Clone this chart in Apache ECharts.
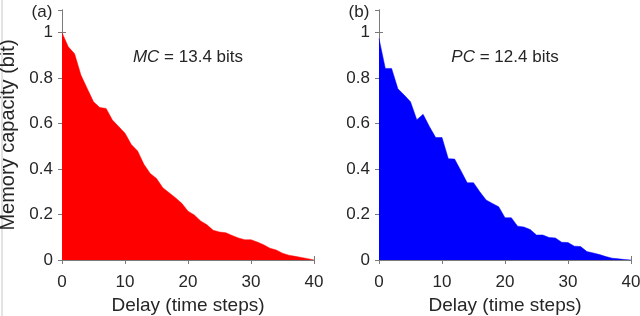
<!DOCTYPE html>
<html>
<head>
<meta charset="utf-8">
<script src="https://cdn.jsdelivr.net/npm/echarts@6/dist/echarts.min.js"></script>
<style>
html,body{margin:0;padding:0;background:#fff;}
#chart{width:640px;height:316px;}
</style>
</head>
<body>
<div id="chart"></div>
<script>
// Data
const delays = [0,1,2,3,4,5,6,7,8,9,10,11,12,13,14,15,16,17,18,19,20,21,22,23,24,25,26,27,28,29,30,31,32,33,34,35,36,37,38,39,40];
const memoryCapacity = [1.0,0.938,0.907,0.814,0.755,0.696,0.671,0.667,0.616,0.587,0.558,0.508,0.480,0.421,0.381,0.359,0.318,0.296,0.274,0.250,0.215,0.198,0.172,0.155,0.131,0.123,0.120,0.108,0.097,0.089,0.089,0.079,0.067,0.052,0.044,0.030,0.021,0.016,0.011,0.006,0.0];
const processingCapacity = [0.975,0.843,0.843,0.753,0.726,0.696,0.617,0.641,0.587,0.539,0.539,0.446,0.444,0.393,0.340,0.340,0.300,0.264,0.249,0.234,0.186,0.186,0.149,0.145,0.134,0.110,0.110,0.099,0.097,0.078,0.077,0.061,0.059,0.037,0.031,0.024,0.015,0.008,0.005,0.002,0.0];
const xTicks = [0,10,20,30,40];
const yTicks = [0,0.2,0.4,0.6,0.8,1];
const panelLabels = ['(a)','(b)'];
const annotations = [{name:'MC', value:'13.4 bits'},{name:'PC', value:'12.4 bits'}];
const xAxisTitle = 'Delay (time steps)';
const yAxisTitle = 'Memory capacity (bit)';

const FONT = 'Liberation Sans, Arial, Helvetica, sans-serif';
const TEXT = '#262626';
const AXIS = '#7a7a7a';

const chart = echarts.init(document.getElementById('chart'), null, {renderer:'canvas'});

const grids = [
  {left:62, top:10, width:252, height:250, outerBoundsMode:'none', containLabel:false},
  {left:379, top:10, width:252, height:250, outerBoundsMode:'none', containLabel:false}
];

const xAxes = [], yAxes = [];
grids.forEach((g, i) => {
  xAxes.push({
    gridIndex:i, type:'value', min:0, max:40, interval:10, position:'bottom',
    axisLine:{show:true, lineStyle:{color:AXIS, width:1}},
    axisTick:{show:true, inside:true, length:4, lineStyle:{color:AXIS}},
    axisLabel:{show:true, margin:14, fontSize:17, color:TEXT, fontFamily:FONT,
      formatter: v => xTicks.indexOf(v) >= 0 ? String(v) : ''},
    splitLine:{show:false},
    name:xAxisTitle, nameLocation:'middle', nameGap:35,
    nameTextStyle:{fontSize:19, color:TEXT, fontFamily:FONT}
  });
  xAxes.push({
    gridIndex:i, type:'value', min:0, max:40, interval:10, position:'top',
    axisLine:{show:true, lineStyle:{color:AXIS, width:1}},
    axisTick:{show:true, inside:true, length:4, lineStyle:{color:AXIS}},
    axisLabel:{show:false}, splitLine:{show:false}
  });
  yAxes.push({
    gridIndex:i, type:'value', min:0, max:1.1, interval:0.2, position:'left',
    axisLine:{show:true, lineStyle:{color:AXIS, width:1}},
    axisTick:{show:true, inside:true, length:4, lineStyle:{color:AXIS}},
    axisLabel:{show:true, margin:9, fontSize:17, color:TEXT, fontFamily:FONT, showMaxLabel:false,
      formatter: v => {
        const t = yTicks.find(y => Math.abs(y - v) < 1e-6);
        return t === undefined ? '' : String(t);
      }},
    splitLine:{show:false},
    name: i === 0 ? yAxisTitle : '', nameLocation:'middle', nameGap:44,
    nameTextStyle:{fontSize:20, color:TEXT, fontFamily:FONT}
  });
  yAxes.push({
    gridIndex:i, type:'value', min:0, max:1.1, interval:0.2, position:'right',
    axisLine:{show:true, lineStyle:{color:AXIS, width:1}},
    axisTick:{show:true, inside:true, length:4, lineStyle:{color:AXIS}},
    axisLabel:{show:false}, splitLine:{show:false}
  });
});

function pairs(vals){ return delays.map((d, k) => [d, vals[k]]); }

const series = [
  {type:'line', xAxisIndex:0, yAxisIndex:0, data:pairs(memoryCapacity), symbol:'none', smooth:false,
   lineStyle:{color:'#ff0000', width:0.5}, areaStyle:{color:'#ff0000', opacity:1}, silent:true, z:1},
  {type:'line', xAxisIndex:2, yAxisIndex:2, data:pairs(processingCapacity), symbol:'none', smooth:false,
   lineStyle:{color:'#0000ff', width:0.5}, areaStyle:{color:'#0000ff', opacity:1}, silent:true, z:1}
];

const graphic = [
  {type:'line', shape:{x1:2, y1:0, x2:2, y2:316}, style:{stroke:'#c8c8c8', lineWidth:1}},
  {type:'text', x:42, y:12, style:{text:panelLabels[0], fontSize:17, fontFamily:FONT, fill:TEXT, align:'center', verticalAlign:'middle'}},
  {type:'text', x:359, y:12, style:{text:panelLabels[1], fontSize:17, fontFamily:FONT, fill:TEXT, align:'center', verticalAlign:'middle'}},
  {type:'text', x:188, y:57, style:{text:'{i|' + annotations[0].name + '} = ' + annotations[0].value,
    rich:{i:{fontStyle:'italic', fontSize:17, fontFamily:FONT, fill:TEXT}},
    fontSize:17, fontFamily:FONT, fill:TEXT, align:'center', verticalAlign:'middle'}},
  {type:'text', x:505, y:57, style:{text:'{i|' + annotations[1].name + '} = ' + annotations[1].value,
    rich:{i:{fontStyle:'italic', fontSize:17, fontFamily:FONT, fill:TEXT}},
    fontSize:17, fontFamily:FONT, fill:TEXT, align:'center', verticalAlign:'middle'}}
];

chart.setOption({
  animation:false,
  backgroundColor:'#ffffff',
  grid:grids,
  xAxis:xAxes,
  yAxis:yAxes,
  series:series,
  graphic:graphic
});
</script>
</body>
</html>
